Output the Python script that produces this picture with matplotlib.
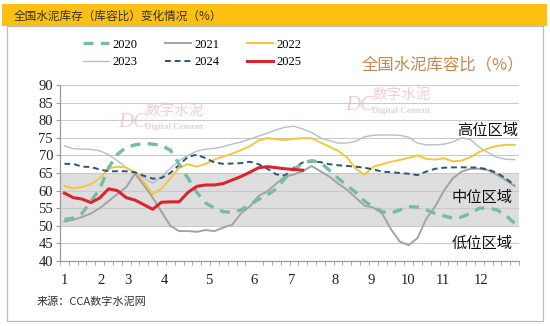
import numpy as np
import matplotlib
matplotlib.use("Agg")
import matplotlib.pyplot as plt
from matplotlib.patches import Rectangle

plt.rcParams['font.family'] = ['Noto Sans CJK SC', 'DejaVu Sans']

# weekly cement stock / capacity ratio (%), weeks 1..52
y2020 = [51.8, 52.2, 53.5, 57.0, 60.5, 66.5, 70.3, 72.3, 73.0, 73.4, 73.2, 72.8, 71.5,
         67.5, 63.5, 59.5, 56.5, 55.0, 54.0, 53.8, 54.5, 56.0, 57.5, 58.8, 60.5, 63.5,
         66.0, 67.8, 68.5, 68.0, 65.8, 63.5, 61.5, 59.5, 57.0, 55.3, 54.0, 53.6, 54.5,
         55.5, 55.3, 54.5, 53.5, 52.8, 52.2, 52.5, 53.5, 55.0, 55.0, 54.5, 53.0, 50.7]
y2021 = [51.2, 51.7, 52.5, 53.5, 55.0, 57.0, 59.0, 61.0, 64.8, 61.5, 58.0, 54.0, 50.0,
         48.5, 48.5, 48.3, 48.8, 48.5, 49.5, 50.3, 53.5, 55.5, 58.5, 59.8, 62.0, 64.0,
         64.6, 65.5, 67.0, 65.5, 64.0, 62.0, 60.3, 58.0, 55.7, 55.2, 53.5, 49.0, 45.5,
         44.5, 46.5, 52.0, 55.5, 60.0, 63.5, 65.4, 66.2, 66.2, 65.8, 64.5, 63.0, 61.3]
y2022 = [61.3, 60.7, 61.0, 61.8, 63.5, 66.3, 66.8, 66.5, 65.2, 62.5, 59.0, 60.5, 63.5,
         66.5, 67.5, 66.8, 67.6, 68.8, 69.7, 70.5, 71.5, 72.6, 74.2, 74.9, 74.6, 74.4,
         74.7, 74.9, 74.9, 73.7, 72.5, 71.3, 69.5, 66.2, 64.5, 66.8, 67.5, 68.2, 68.7,
         69.3, 70.0, 69.0, 68.8, 69.2, 68.3, 68.5, 69.5, 71.0, 72.0, 72.7, 73.0, 73.0]
y2023 = [72.7, 71.9, 71.8, 71.7, 71.3, 70.2, 68.5, 66.5, 65.0, 63.6, 62.1, 64.0, 66.3,
         68.5, 70.0, 71.2, 71.8, 72.0, 72.5, 73.2, 73.8, 74.6, 75.5, 76.3, 77.3, 78.0,
         78.3, 77.5, 76.5, 75.0, 74.2, 73.5, 73.5, 74.0, 75.3, 75.7, 75.8, 75.8, 75.7,
         75.2, 73.5, 73.0, 73.0, 73.2, 73.8, 75.0, 74.5, 72.3, 70.8, 69.5, 68.9, 68.8]
y2024 = [67.6, 67.6, 66.8, 66.7, 66.0, 65.5, 65.5, 65.5, 65.2, 64.2, 63.4, 63.6, 65.0,
         67.3, 69.6, 70.2, 69.2, 68.0, 67.6, 67.7, 67.8, 68.2, 67.5, 66.2, 64.6, 64.3,
         66.5, 68.0, 68.2, 68.1, 67.5, 67.2, 67.0, 66.8, 66.5, 66.0, 65.4, 65.2, 65.0,
         64.8, 64.4, 65.4, 66.2, 66.5, 66.6, 66.6, 66.6, 66.5, 66.0, 65.0, 63.5, 61.5]
y2025 = [59.3, 58.0, 57.6, 56.6, 57.9, 60.5, 60.0, 58.0, 57.3, 56.0, 54.7, 56.7, 56.8,
         56.8, 59.5, 61.2, 61.6, 61.6, 62.0, 63.0, 64.0, 65.2, 66.5, 66.8, 66.5, 66.2,
         66.0, 65.8]

month_labels = [str(m) for m in range(1, 13)]
month_pos = [0, 4.2, 7.2, 11.3, 16.3, 21.5, 25.7, 30.7, 34.7, 38.9, 42.9, 47.2]

W, H = 550, 326
fig = plt.figure(figsize=(W / 100, H / 100), dpi=100)


def fx(px):
    return px / W


def fy(py):
    return 1 - py / H


# outer frame and yellow header bar
fig.add_artist(Rectangle((fx(7), fy(321)), fx(543) - fx(7), fy(26) - fy(321),
                         fill=False, edgecolor='#BDBDBD', lw=0.9,
                         transform=fig.transFigure))
fig.add_artist(Rectangle((fx(2), fy(26)), fx(547) - fx(2), fy(4) - fy(26),
                         facecolor='#FCC012', edgecolor='none',
                         transform=fig.transFigure))
fig.text(fx(14), fy(16), '全国水泥库存（库容比）变化情况（%）', fontsize=8.4,
         va='center', color='#303030')

ax = fig.add_axes([fx(60), fy(261), fx(519) - fx(60), fy(85) - fy(261)])
x = np.arange(52)

ax.axhspan(50, 65, color='#DEDEDE', zorder=0, lw=0)
ax.set_ylim(40, 90)
ax.set_xlim(-0.5, 51.5)
ax.set_yticks(range(40, 95, 5))
ax.yaxis.grid(True, color='#CACACA', lw=0.8, zorder=0.5)
ax.set_axisbelow(True)

l23, = ax.plot(x, y2023, color='#B7BDCB', lw=1.0, label='2023', zorder=2)
l22, = ax.plot(x, y2022, color='#F3C63F', lw=1.4, label='2022', zorder=3)
l21, = ax.plot(x, y2021, color='#A3A3A3', lw=1.4, label='2021', zorder=3)
l24, = ax.plot(x, y2024, color='#2B5670', lw=1.4, ls=(0, (3, 2)), label='2024', zorder=4)
l20, = ax.plot(x, y2020, color='#76BBA6', lw=2.4, ls=(0, (3, 2.2)), label='2020', zorder=4)
l25, = ax.plot(x[:len(y2025)], y2025, color='#D9262E', lw=2.2, label='2025', zorder=5)

for side in ['top', 'right']:
    ax.spines[side].set_visible(False)
for side in ['left', 'bottom']:
    ax.spines[side].set_color('#9A9A9A')
    ax.spines[side].set_linewidth(0.9)

ax.set_xticks(month_pos)
ax.set_xticklabels(month_labels)
ax.set_xticks(np.arange(-0.5, 52, 1), minor=True)
ax.tick_params(axis='x', which='major', length=0, pad=9)
ax.tick_params(axis='x', which='minor', length=3, color='#9A9A9A', direction='out')
ax.tick_params(axis='y', length=3, color='#9A9A9A', pad=2)
for lab in ax.get_xticklabels() + ax.get_yticklabels():
    lab.set_family('Liberation Serif')
    lab.set_fontsize(10.5)
    lab.set_color('#222222')

# zone labels
ax.text(51.4, 77.2, '高位区域', ha='right', va='center', fontsize=11, color='#111111', zorder=6)
ax.text(50.8, 57.9, '中位区域', ha='right', va='center', fontsize=11, color='#111111', zorder=6)
ax.text(50.8, 45.1, '低位区域', ha='right', va='center', fontsize=11, color='#111111', zorder=6)

# faint watermarks
for wx, wy in [(118, 122), (345, 106)]:
    fig.text(fx(wx), fy(wy), 'DC', fontsize=15, family='Liberation Serif', style='italic',
             color='#E7B9C4', alpha=0.7, va='center')
    fig.text(fx(wx + 27), fy(wy - 11), '数字水泥', fontsize=10.5, color='#EBB8C6',
             alpha=0.7, va='center')
    fig.text(fx(wx + 27), fy(wy + 5), 'Digital Cement', fontsize=6.5, weight='bold',
             family='Liberation Serif', color='#DDD6DA', va='center')

fig.text(fx(362), fy(65), '全国水泥库容比（%）', fontsize=11.8, color='#C8874C', va='center')

fig.legend([l20, l23, l21, l24, l22, l25],
           ['2020', '2023', '2021', '2024', '2022', '2025'],
           ncol=3, loc='center left', bbox_to_anchor=(fx(83), fy(53.5)),
           frameon=False, borderpad=0, borderaxespad=0, handlelength=2.1,
           handletextpad=0.25, columnspacing=2.2, labelspacing=0.45,
           prop={'family': 'Liberation Serif', 'size': 9})

fig.text(fx(37), fy(302), '来源：CCA数字水泥网', fontsize=8, color='#333333', va='center')

fig.savefig('out.png', dpi=100)
